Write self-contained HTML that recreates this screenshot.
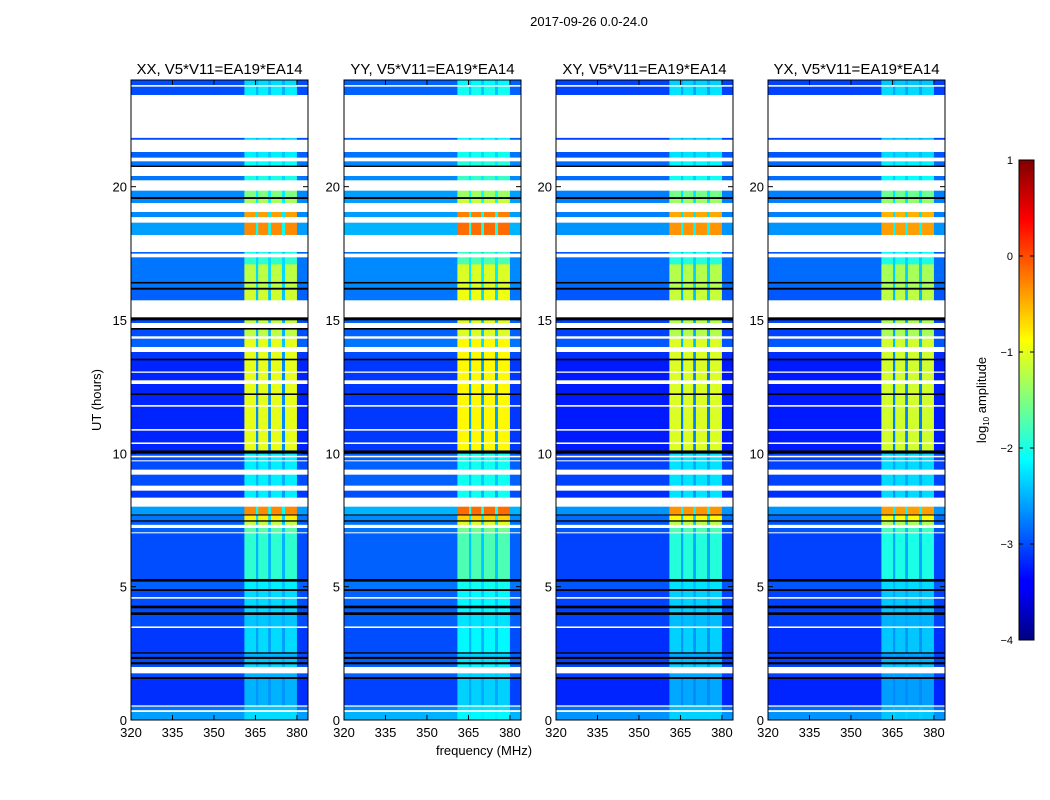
<!DOCTYPE html>
<html><head><meta charset="utf-8"><style>
body{margin:0;background:#fff;}
svg{display:block;font-family:"Liberation Sans",sans-serif;}
</style></head><body>
<svg id="chart" width="1050" height="800" viewBox="0 0 1050 800">
<defs>
<linearGradient id="jetgrad" x1="0" y1="1" x2="0" y2="0">
<stop offset="0" stop-color="#000080"/><stop offset="0.11" stop-color="#0000ff"/><stop offset="0.125" stop-color="#0000ff"/>
<stop offset="0.375" stop-color="#00ffff"/><stop offset="0.625" stop-color="#ffff00"/><stop offset="0.875" stop-color="#ff0000"/><stop offset="1" stop-color="#800000"/>
</linearGradient>
</defs>
<text x="589" y="26" font-size="13" text-anchor="middle">2017-09-26 0.0-24.0</text>
<text x="101" y="400" font-size="13" text-anchor="middle" transform="rotate(-90 101 400)">UT (hours)</text>
<text x="484" y="755" font-size="13" text-anchor="middle">frequency (MHz)</text>
<g id="panels"></g>
<g>
<rect x="1019" y="160" width="15" height="480" fill="url(#jetgrad)" stroke="#000" stroke-width="1"/>
<g id="cbticks"></g>
<text x="986" y="400" font-size="13" text-anchor="middle" transform="rotate(-90 986 400)">log<tspan font-size="8" dy="3">10</tspan><tspan dy="-3"> amplitude</tspan></text>
</g>
</svg>
<script>
// Frequency bands (MHz): start, end, kind (0 = background, 1 = active band, 2 = gap)
const bandStart=[320,361,365.2,366,369.6,370.6,374.6,375.7,380];
const bandEnd  =[361,365.2,366,369.6,370.6,374.6,375.7,380,384];
const bandKind =[0,1,2,1,2,1,2,1,0];
// Time segments (UT hours); value = log10 amplitude, "W" = flagged (white), "K" = black
const segStart=[
0,0.3,0.38,0.5,0.56,1.55,1.62,1.75,2.0,2.1,
2.18,2.3,2.38,2.5,2.55,3.45,3.52,3.95,4.05,4.2,
4.3,4.55,4.62,4.85,4.92,5.2,5.3,7.0,7.05,7.2,
7.33,7.45,7.5,7.68,7.72,8.0,8.35,8.6,8.8,9.2,
9.4,9.7,9.75,9.85,9.92,10.0,10.12,10.35,10.42,10.85,
10.92,11.75,11.82,12.2,12.26,12.6,12.75,13.02,13.08,13.5,
13.56,13.8,14.0,14.3,14.4,14.65,14.7,14.9,15.0,15.1,
15.75,16.15,16.22,16.38,16.44,17.1,17.35,17.5,17.55,18.2,
18.65,18.87,19.05,19.4,19.55,19.62,19.85,20.25,20.4,20.75,
20.8,20.95,21.1,21.3,21.77,21.83,23.45,23.75,23.82];
const segEnd=[
0.3,0.38,0.5,0.56,1.55,1.62,1.75,2.0,2.1,2.18,
2.3,2.38,2.5,2.55,3.45,3.52,3.95,4.05,4.2,4.3,
4.55,4.62,4.85,4.92,5.2,5.3,7.0,7.05,7.2,7.33,
7.45,7.5,7.68,7.72,8.0,8.35,8.6,8.8,9.2,9.4,
9.7,9.75,9.85,9.92,10.0,10.12,10.35,10.42,10.85,10.92,
11.75,11.82,12.2,12.26,12.6,12.75,13.02,13.08,13.5,13.56,
13.8,14.0,14.3,14.4,14.65,14.7,14.9,15.0,15.1,15.75,
16.15,16.22,16.38,16.44,17.1,17.35,17.5,17.55,18.2,18.65,
18.87,19.05,19.4,19.55,19.62,19.85,20.25,20.4,20.75,20.8,
20.95,21.1,21.3,21.77,21.83,23.45,23.75,23.82,24];
const segBg=[
-2.6,"W",-2.8,"W",-3.15,"K",-3.0,"W",-3.0,"K",
-3.0,"K",-3.0,"K",-3.1,"W",-3.0,"K",-3.0,"K",
-3.0,"W",-3.0,"K",-2.9,"K",-3.0,"W",-2.9,"W",
-2.9,"K",-2.8,"K",-2.6,"W",-3.1,"W",-3.0,"W",
-3.0,"W",-3.0,"W",-3.0,"K",-3.2,"W",-3.2,"W",
-3.2,"W",-3.2,"K",-3.2,"W",-3.2,"W",-3.2,"K",
-3.1,"W",-2.9,"W",-3.0,"K","W",-3.0,"K","W",
-2.9,"K",-2.8,"K",-2.8,-2.8,"W",-2.9,"W",-2.6,
"W",-2.7,"W",-2.7,"K",-2.7,"W",-2.8,"W","K",
-2.8,"W",-2.9,"W",-3.0,"W",-3.0,"W",-3.0];
const segBand=[
-2.3,"W",-2.4,"W",-2.5,"K",-2.5,"W",-2.3,"K",
-2.4,"K",-2.5,"K",-2.3,"W",-2.4,"K",-2.3,"K",
-2.3,"W",-2.3,"K",-2.2,"K",-1.9,"W",-1.7,"W",
-1.2,"K",-0.8,"K",-0.3,"W",-2.2,"W",-2.2,"W",
-2.2,"W",-2.2,"W",-2.2,"K",-1.0,"W",-1.0,"W",
-1.0,"W",-1.0,"K",-1.0,"W",-1.0,"W",-1.0,"K",
-1.0,"W",-1.0,"W",-1.2,"K","W",-1.2,"K","W",
-1.1,"K",-1.2,"K",-1.2,-1.9,"W",-2.0,"W",-0.3,
"W",-0.4,"W",-1.3,"K",-1.5,"W",-2.0,"W","K",
-2.1,"W",-2.2,"W",-2.3,"W",-2.2,"W",-2.3];
// Panels
const panelTitles=["XX, V5*V11=EA19*EA14","YY, V5*V11=EA19*EA14","XY, V5*V11=EA19*EA14","YX, V5*V11=EA19*EA14"];
const panelBgOffset=[0,0.1,-0.05,-0.05];
const panelBandOffset=[0,0.15,-0.05,-0.1];
const xTicks=[320,335,350,365,380];
const yTicks=[0,5,10,15,20];
const cbTicks=[1,0,-1,-2,-3,-4];

const NS="http://www.w3.org/2000/svg";
const panelLeft=[131,344,556,768], PW=177, PT=80, PB=720;
const xScale=(f,i)=>panelLeft[i]+(f-320)/64*PW;
const yScale=t=>PB-(t/24)*(PB-PT);
const cbScale=v=>640-(v+4)/5*480;
function jet(v){let n=Math.max(0,Math.min(1,(v+4)/5));const c=x=>Math.round(255*Math.max(0,Math.min(1,1.5-Math.abs(x))));
 return `rgb(${c(4*n-3)},${c(4*n-2)},${c(4*n-1)})`;}
function mk(tag,attrs,parent){const e=document.createElementNS(NS,tag);for(const k in attrs)e.setAttribute(k,attrs[k]);parent.appendChild(e);return e;}
const root=document.getElementById("panels");
panelTitles.forEach((title,i)=>{
 const g=mk("g",{},root);
 
 
 const n=Math.min(segStart.length,segEnd.length,segBg.length,segBand.length);
 for(let s=0;s<n;s++){
  const y0=yScale(segEnd[s]),y1=yScale(segStart[s]);
  for(let b=0;b<bandStart.length;b++){
   let v=bandKind[b]===1?segBand[s]:segBg[s];
   if(v==="W")continue;
   let fill;
   if(v==="K")fill="#000";
   else{ if(bandKind[b]===1)v=v+panelBandOffset[i]; else if(bandKind[b]===2)v=Math.min(segBand[s],segBg[s]+0.5)+panelBgOffset[i]; else v=v+panelBgOffset[i]; fill=jet(v);}
   const x0=xScale(bandStart[b],i),x1=xScale(bandEnd[b],i);
   const r=mk("rect",{x:x0.toFixed(2),y:y0.toFixed(2),width:(x1-x0+0.3).toFixed(2),height:(y1-y0+0.3).toFixed(2),fill:fill},g);
   
   
  }
 }
 const fr=mk("rect",{x:panelLeft[i],y:PT,width:PW,height:PB-PT,fill:"none",stroke:"#000","stroke-width":1},g);
 
 
 const tt=mk("text",{x:panelLeft[i]+PW/2,y:74,"font-size":15,"text-anchor":"middle"},g);tt.textContent=title;
 
 
 xTicks.forEach(f=>{const x=xScale(f,i);
  mk("line",{x1:x,x2:x,y1:PB,y2:PB-5,stroke:"#000"},g);mk("line",{x1:x,x2:x,y1:PT,y2:PT+5,stroke:"#000"},g);
  const t=mk("text",{x:x,y:737,"font-size":13,"text-anchor":"middle"},g);t.textContent=f;
  
  });
 yTicks.forEach(v=>{const y=yScale(v);
  mk("line",{x1:panelLeft[i],x2:panelLeft[i]+5,y1:y,y2:y,stroke:"#000"},g);mk("line",{x1:panelLeft[i]+PW,x2:panelLeft[i]+PW-5,y1:y,y2:y,stroke:"#000"},g);
  const t=mk("text",{x:panelLeft[i]-4,y:y+5,"font-size":13,"text-anchor":"end"},g);t.textContent=v;
  
  });
});
const cb=document.getElementById("cbticks");
cbTicks.forEach(v=>{const y=cbScale(v);
 mk("line",{x1:1019,x2:1023,y1:y,y2:y,stroke:"#000"},cb);mk("line",{x1:1030,x2:1034,y1:y,y2:y,stroke:"#000"},cb);
 const t=mk("text",{x:1013,y:y+4,"font-size":11,"text-anchor":"end"},cb);t.textContent=v<0?"\u2212"+(-v):String(v);
 
 });
</script>
</body></html>
